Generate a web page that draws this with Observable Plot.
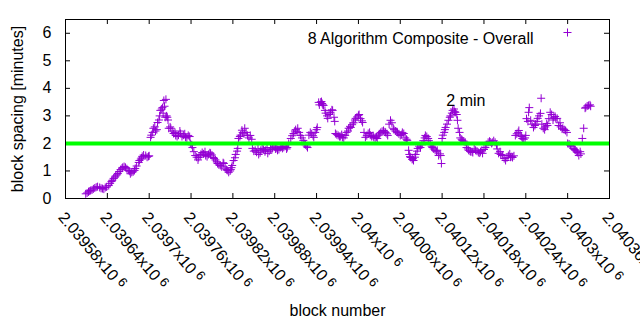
<!DOCTYPE html>
<html>
<head>
<meta charset="utf-8">
<script src="https://cdn.jsdelivr.net/npm/d3@7"></script>
<script src="https://cdn.jsdelivr.net/npm/@observablehq/plot@0.6"></script>
<style>
  html, body { margin: 0; padding: 0; background: white; }
  #chart { width: 640px; height: 330px; }
</style>
</head>
<body>
<div id="chart"></div>
<script>
// Block numbers (x) and block spacing in minutes (y)
const blockNumbers = [
  2039609,2039613,2039616,2039620,2039624,2039629,2039633,2039637,2039642,2039646,
  2039649,2039652,2039655,2039659,2039662,2039666,2039670,2039675,2039677,2039680,
  2039685,2039688,2039690,2039695,2039699,2039702,2039706,2039709,2039712,2039715,
  2039716,2039719,2039721,2039723,2039726,2039728,2039731,2039735,2039738,2039742,
  2039745,2039749,2039752,2039756,2039759,2039762,2039766,2039771,2039774,2039776,
  2039781,2039785,2039788,2039792,2039795,2039798,2039802,2039807,2039809,2039812,
  2039814,2039817,2039819,2039821,2039824,2039827,2039828,2039831,2039834,2039837,
  2039841,2039845,2039848,2039852,2039857,2039860,2039862,2039867,2039870,2039874,
  2039877,2039881,2039884,2039888,2039891,2039895,2039898,2039903,2039907,2039910,
  2039913,2039917,2039921,2039924,2039927,2039931,2039936,2039938,2039941,2039943,
  2039946,2039948,2039950,2039953,2039956,2039960,2039963,2039966,2039967,2039971,
  2039974,2039977,2039981,2039986,2039989,2039993,2039996,2040000,2040003,2040006,
  2040010,2040014,2040017,2040022,2040024,2040027,2040032,2040036,2040039,2040042,
  2040046,2040050,2040053,2040056,2040060,2040065,2040067,2040070,2040073,2040075,
  2040078,2040079,2040082,2040085,2040089,2040093,2040096,2040100,2040103,2040106,
  2040110,2040113,2040115,2040118,2040120,2040123,2040125,2040129,2040132,2040135,
  2040138,2040139,2040142,2040143,2040146,2040149,2040153,2040158,2040161,2040164,
  2040168,2040172,2040175,2040178,2040182,2040186,2040189,2040192,2040196,2040199,
  2040201,2040204,2040207,2040211,2040215,2040218,2040221,2040225,2040230,2040232,
  2040235,2040240,2040241,2040244,2040245,2040247,2040251,2040254,2040257,2040261,
  2040265,2040268,2040271,2040275,2040280,2040283,2040285,2040287,2040290,2040293,
  2040297,2040300,2040304,2040308,2040311,2040314,2040316,2040318,2040321,2040323,
  2040326,2040330,2040333,
  2039724,2040262,2040119
];
const spacingMinutes = [
  0.17,0.24,0.29,0.35,0.41,0.40,0.36,0.40,0.47,0.62,
  0.73,0.82,0.91,1.05,1.13,1.13,1.02,0.95,0.97,1.09,
  1.31,1.43,1.53,1.56,1.53,2.22,2.55,2.45,2.76,3.00,
  3.20,3.30,3.56,2.95,2.95,2.55,2.55,2.36,2.29,2.30,
  2.36,2.30,2.22,2.29,2.00,1.85,1.56,1.49,1.60,1.67,
  1.56,1.60,1.64,1.49,1.40,1.27,1.20,1.27,1.10,1.02,
  0.95,1.05,1.20,1.38,1.60,1.82,2.18,2.30,2.40,2.55,
  2.29,2.29,1.82,1.75,1.60,1.75,1.82,1.75,1.64,1.80,
  1.85,1.80,1.75,1.85,1.82,1.90,1.85,2.18,2.36,2.50,
  2.55,2.29,2.11,1.95,1.85,2.40,2.22,2.40,2.58,3.49,
  3.50,3.45,3.38,3.10,2.91,3.13,3.20,2.80,2.36,2.29,
  2.25,2.22,2.29,2.55,2.58,2.75,2.91,3.02,2.90,2.76,
  2.22,2.36,2.30,2.22,2.20,2.18,2.40,2.47,2.40,2.29,
  2.84,2.55,2.45,2.40,2.29,2.36,2.20,2.11,1.60,1.49,
  1.45,1.38,1.60,1.82,1.85,2.10,2.29,2.18,2.00,1.85,
  1.75,1.75,1.56,1.56,2.18,2.40,2.58,2.84,3.00,3.20,
  3.15,3.13,2.84,2.55,2.20,2.11,2.04,1.75,1.70,1.67,
  1.75,1.67,1.70,1.64,1.85,2.04,2.05,2.04,2.04,1.80,
  1.64,1.60,1.56,1.38,1.56,1.50,1.49,2.29,2.47,2.30,
  2.18,2.29,2.90,3.13,3.30,2.84,2.58,2.70,2.91,3.09,
  2.55,2.60,2.65,3.13,2.95,2.90,2.91,2.65,2.60,2.55,
  2.47,2.00,1.93,1.82,1.75,1.67,1.56,1.70,2.18,2.55,
  3.31,3.38,3.35,
  3.60,3.64,1.27
];
// additional readings inside the dense clusters of markers
const clusterBlocks = [
  2039611,2039614,2039618,2039622,2039626,2039631,2039635,2039639,2039644,2039647,2039651,2039654,2039657,2039661,2039664,2039668,2039672,2039673,2039679,2039682,2039686,2039689,2039692,2039697,2039700,
  2039703,2039705,2039708,2039711,2039714,2039718,2039720,2039722,2039725,2039727,2039730,2039733,2039737,2039740,2039744,2039747,2039751,2039754,2039758,
  2039761,2039764,2039768,2039770,2039773,2039778,2039780,2039783,2039787,2039790,2039793,2039797,2039800,2039804,2039806,2039811,2039816,2039818,2039823,2039826,
  2039830,2039833,2039836,2039839,2039843,2039847,2039850,2039854,2039856,2039859,2039864,2039866,2039869,2039872,2039876,2039879,2039883,2039886,2039890,2039893,2039897,2039900,2039905,2039909,2039912,2039915,2039919,2039923,2039926,2039929,2039933,2039935,2039940,
  2039944,2039947,2039949,2039952,2039955,2039958,2039962,2039965,2039969,2039973,2039976,2039979,2039983,2039985,2039988,2039991,2039995,2039998,2040001,2040005,2040008,2040012,2040016,2040019,2040021,2040026,2040029,2040030,2040034,2040038,2040041,2040044,2040048,2040051,2040055,2040058,2040062,2040063,2040069,
  2040072,2040074,2040077,2040081,2040084,2040087,2040091,2040095,2040098,2040101,2040105,2040108,2040112,2040117,2040121,2040124,2040127,2040131,2040134,2040137,2040141,2040145,2040148,2040151,2040155,2040157,2040160,2040163,2040166,2040170,2040174,2040177,2040180,2040184,2040188,2040191,2040194,2040198,
  2040203,2040206,2040209,2040213,2040217,2040220,2040223,2040227,2040229,2040234,2040237,2040239,2040243,2040249,2040253,2040256,2040259,2040263,2040267,2040270,2040273,2040277,2040279,2040282,2040289,2040292,2040295,2040299,2040302,2040306,2040310,2040313,2040319,2040325,2040328,2040332
];
const clusterMinutes = [
  0.20,0.27,0.31,0.38,0.43,0.37,0.34,0.42,0.55,0.66,0.78,0.86,0.98,1.10,1.16,1.08,0.99,0.90,1.02,1.18,1.38,1.47,1.58,1.50,1.55,
  2.30,2.40,2.60,2.50,2.85,3.25,3.10,3.35,3.00,2.85,2.60,2.45,2.40,2.25,2.45,2.25,2.35,2.20,2.25,
  1.95,1.70,1.50,1.40,1.55,1.62,1.70,1.52,1.66,1.58,1.45,1.33,1.22,1.15,1.30,1.05,1.00,1.12,1.48,1.72,
  2.25,2.48,2.35,2.40,2.20,2.15,1.72,1.68,1.80,1.66,1.78,1.70,1.85,1.72,1.78,1.90,1.82,1.78,1.88,1.86,1.80,2.00,2.28,2.45,2.42,2.40,2.20,2.00,1.90,2.30,2.35,2.28,2.50,
  3.40,3.52,3.40,3.20,3.00,3.05,3.22,2.95,2.32,2.25,2.32,2.20,2.40,2.45,2.62,2.68,2.85,2.96,3.05,2.82,2.40,2.28,2.40,2.25,2.28,2.24,2.30,2.35,2.44,2.42,2.35,2.70,2.75,2.50,2.42,2.35,2.32,2.40,2.15,
  1.75,1.52,1.42,1.50,1.72,1.90,1.95,2.20,2.25,2.10,1.90,1.80,1.70,1.62,2.30,2.50,2.70,2.95,3.10,3.25,3.05,2.40,2.15,2.08,1.85,1.80,1.72,1.70,1.80,1.72,1.65,1.75,1.78,1.95,2.08,2.00,2.10,1.95,
  1.70,1.58,1.45,1.48,1.62,1.52,1.55,2.35,2.40,2.25,2.15,2.20,2.80,2.70,2.65,2.80,3.00,2.70,2.50,2.72,2.90,3.05,2.85,2.98,2.75,2.52,2.50,2.40,1.98,1.90,1.78,1.72,1.62,3.28,3.36,3.40
];
const xTicks = [2039580,2039640,2039700,2039760,2039820,2039880,2039940,
                2040000,2040060,2040120,2040180,2040240,2040300,2040360];
const yTicks = [0,1,2,3,4,5,6];
const targetLine = [2];
const seriesName = "8 Algorithm Composite - Overall";
const annotation = {text: "2 min", block: 2040126, minutes: 3.53};

const data = blockNumbers.map((b, i) => ({block: b, minutes: spacingMinutes[i]}))
  .concat(clusterBlocks.map((b, i) => ({block: b, minutes: clusterMinutes[i]})));
const purple = "#9400d3";
const fmtTick = v => String(+(v / 1e6).toFixed(5)) + "x10 6";

const chart = Plot.plot({
  width: 640,
  height: 330,
  marginLeft: 65,
  marginRight: 31,
  marginTop: 19,
  marginBottom: 132,
  style: {fontFamily: "'Liberation Sans', Arial, sans-serif", fontSize: "16px", background: "white", color: "black"},
  x: {domain: [2039580, 2040360], axis: null},
  y: {domain: [0, 6.5], axis: null},
  marks: [
    // y tick labels
    Plot.axisY(yTicks, {tickSize: 0, tickPadding: 14, fontSize: 16, label: null, fill: "black"}),
    // inward tick marks on all four sides
    Plot.ruleX(xTicks, {insetTop: 174, stroke: "black"}),
    Plot.ruleX(xTicks, {insetBottom: 174, stroke: "black"}),
    Plot.ruleY(yTicks, {insetRight: 539, stroke: "black"}),
    Plot.ruleY(yTicks, {insetLeft: 539, stroke: "black"}),
    // data
    Plot.dot(data, {x: "block", y: "minutes", symbol: "plus", r: 2.7, stroke: purple, strokeWidth: 1}),
    // 2 minute target line
    Plot.ruleY(targetLine, {stroke: "#00ff00", strokeWidth: 4}),
    Plot.frame({stroke: "black"}),
    // rotated x tick labels
    Plot.text(xTicks, {x: d => d, frameAnchor: "bottom", text: fmtTick, rotate: 50,
      textAnchor: "start", lineAnchor: "middle", dx: -4, dy: 16, fontSize: 16, fill: "black",
      className: "xtl"}),
    // axis titles
    Plot.text(["block number"], {frameAnchor: "bottom", dy: 117, fontSize: 16, fill: "black"}),
    Plot.text(["block spacing [minutes]"], {frameAnchor: "left", dx: -48, rotate: -90,
      textAnchor: "middle", fontSize: 16, fill: "black"}),
    // legend
    Plot.text([seriesName], {frameAnchor: "top-right", dx: -76, dy: 13, textAnchor: "end", fontSize: 16, fill: "black"}),
    Plot.dot([0], {frameAnchor: "top-right", dx: -42, dy: 13, symbol: "plus", r: 2.7, stroke: purple, strokeWidth: 1}),
    // annotation
    Plot.text([annotation], {x: "block", y: "minutes", text: "text", textAnchor: "start", fontSize: 16, fill: "black"})
  ]
});

// render the "x10 6" exponent as a raised superscript
chart.querySelectorAll("g.xtl text").forEach(t => {
  const s = t.textContent;
  const i = s.lastIndexOf(" ");
  t.textContent = s.slice(0, i);
  const sup = document.createElementNS("http://www.w3.org/2000/svg", "tspan");
  sup.setAttribute("dx", "4");
  sup.setAttribute("dy", "-4");
  sup.setAttribute("font-size", "13");
  sup.textContent = s.slice(i + 1);
  t.appendChild(sup);
});

document.getElementById("chart").appendChild(chart);
</script>
</body>
</html>
